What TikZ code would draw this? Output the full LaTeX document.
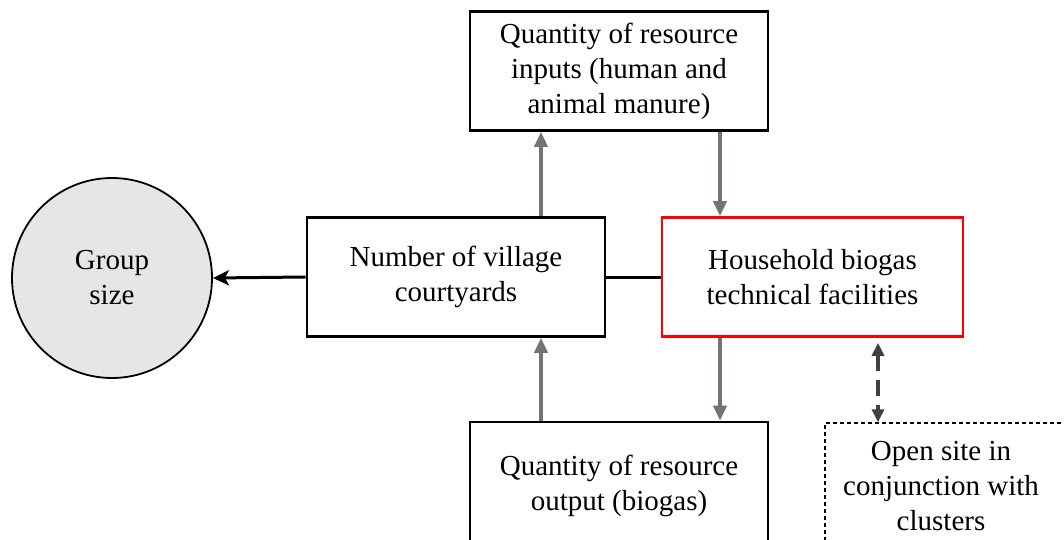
\documentclass[tikz,border=0pt]{standalone}
\usepackage{fontspec}
\setmainfont{Liberation Serif}
\usetikzlibrary{arrows.meta}

\begin{document}
\begin{tikzpicture}[x=1pt, y=-1pt,
  box/.style={draw, line width=2.6pt, align=center, inner sep=0pt,
    font=\fontsize{29}{35}\selectfont, minimum width=298pt, minimum height=119pt},
  garr/.style={-{Triangle[length=15pt,width=13pt]}, line width=3.6pt, draw={rgb,255:red,120;green,114;blue,114}},
  barr/.style={-{Stealth[length=16pt,width=15pt,inset=4pt]}, line width=3pt},
  darr/.style={{Triangle[length=13pt,width=12pt]}-{Triangle[length=13pt,width=12pt]}, line width=3.6pt,
    draw={rgb,255:red,64;green,64;blue,64}, dash pattern=on 16pt off 9pt},
]
\useasboundingbox (0,0) rectangle (1064,540);
\clip (0,0) rectangle (1064,540);
% circle on the left
\node[circle, draw, line width=1.8pt, fill={rgb,255:red,230;green,230;blue,230},
  minimum size=200pt, align=center, font=\fontsize{29}{35}\selectfont] (grp) at (112,278) {Group\\size};
% middle row
\node[box] (vill) at (456,277) {Number of village\\courtyards};
\node[box, draw={rgb,255:red,255;green,0;blue,0}, minimum width=301pt] (bio) at (812.5,277) {Household biogas\\technical facilities};
% top and bottom
\node[box] (inp) at (619,71) {Quantity of resource\\inputs (human and\\animal manure)};
\node[box, minimum height=128pt] (outp) at (619,486) {Quantity of resource\\output (biogas)};
% open site, cut off at the edge
\node[draw, line width=1.4pt, dash pattern=on 4pt off 3pt, inner sep=0pt,
  minimum width=272pt, minimum height=126pt] (site) at (961,486) {};
\node[align=center, inner sep=0pt, font=\fontsize{29}{35}\selectfont] (sitetxt) at ([xshift=-20pt]site.center) {Open site in\\conjunction with\\clusters};
% connectors
\draw[barr] (vill.west) -- (grp.east);
\draw[line width=3pt] (vill.east) -- (bio.west);
\draw[garr] ([xshift=85pt]vill.north) -- ([xshift=85pt]vill.north |- inp.south);
\draw[garr] ([xshift=-92.5pt]bio.north |- inp.south) -- ([xshift=-92.5pt]bio.north);
\draw[garr] ([xshift=85pt]vill.south |- outp.north) -- ([xshift=85pt]vill.south);
\draw[garr] ([xshift=-92.5pt]bio.south) -- ([xshift=-92.5pt]bio.south |- outp.north);
\draw[darr] ([xshift=65.5pt,yshift=-5pt]bio.south) -- ([xshift=65.5pt]bio.south |- site.north);
\end{tikzpicture}
\end{document}
